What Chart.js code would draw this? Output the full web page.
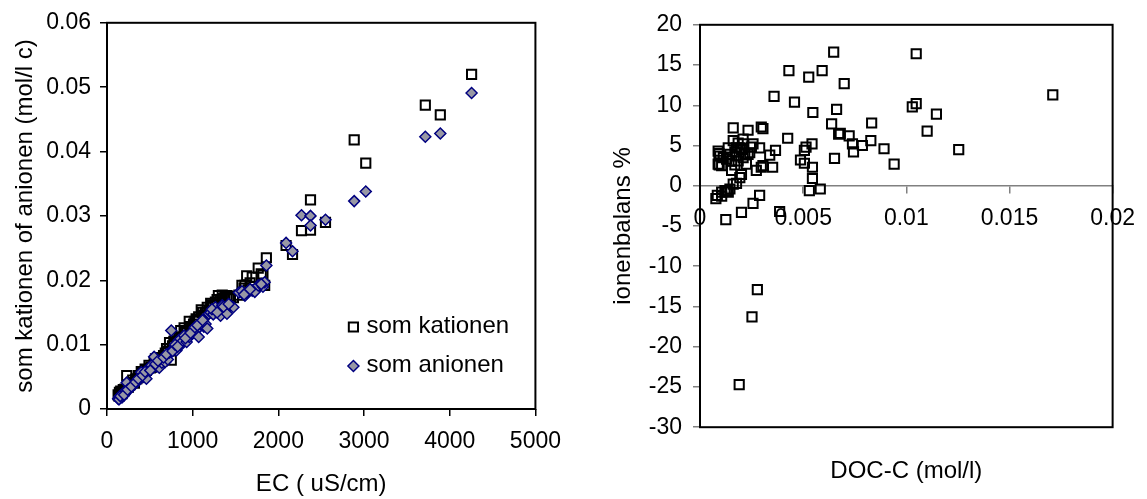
<!DOCTYPE html>
<html>
<head>
<meta charset="utf-8">
<title>som kationen / ionenbalans</title>
<script src="https://cdn.jsdelivr.net/npm/chart.js@4.4.1/dist/chart.umd.min.js"></script>
<style>
  html, body { margin: 0; padding: 0; background: #fff; overflow: hidden; }
  .box { position: absolute; top: 0; height: 499px; }
  #left { left: 0; width: 573px; }
  #right { left: 573px; width: 574px; }
</style>
</head>
<body>
<div class="box" id="left"><canvas id="ecChart"></canvas></div>
<div class="box" id="right"><canvas id="docChart"></canvas></div>
<script>
// left chart: EC against som kationen / som anionen
var ec = [130, 145, 160, 175, 190, 210, 230, 250, 270, 300,
  320, 350, 380, 400, 430, 460, 490, 520, 550, 580,
  610, 640, 680, 710, 730, 750, 780, 810, 840, 860,
  880, 900, 930, 960, 990, 1010, 1040, 1070, 1100, 1130,
  1150, 1170, 1190, 1210, 1240, 1265, 1300, 1325, 1345, 1375,
  1400, 1440, 1475, 1540, 1575, 1610, 1630, 1650, 1695, 1725,
  1765, 1820, 1840, 1860, 2090, 2165, 2270, 2375, 2375, 2550,
  2885, 3020, 3715, 3890, 4255,
  140, 155, 200, 240, 285, 335, 365, 415, 445, 505,
  565, 595, 660, 695, 765, 795, 825, 915, 975, 1025,
  1055, 1115, 1225, 1285, 1360, 1420, 1600, 1670, 1800];
var kationen = [0.0022, 0.0026, 0.0028, 0.0024, 0.0030, 0.0031, 0.0052, 0.0034, 0.0038, 0.0045,
  0.0040, 0.0047, 0.0050, 0.0058, 0.0054, 0.0060, 0.0068, 0.0065, 0.0072, 0.0070,
  0.0076, 0.0074, 0.0087, 0.0090, 0.0103, 0.0076, 0.0105, 0.0100, 0.0110, 0.0122,
  0.0108, 0.0126, 0.0118, 0.0136, 0.0124, 0.0132, 0.0140, 0.0143, 0.0154, 0.0146,
  0.0150, 0.0158, 0.0152, 0.0164, 0.0160, 0.0166, 0.0176, 0.0170, 0.0177, 0.0174,
  0.0176, 0.0175, 0.0173, 0.0177, 0.0192, 0.0192, 0.0207, 0.0185, 0.0205, 0.0190,
  0.0219, 0.0208, 0.0192, 0.0235, 0.0254, 0.0240, 0.0277, 0.0325, 0.0278, 0.0290,
  0.0418, 0.0382, 0.0472, 0.0457, 0.0520,
  0.0020, 0.0024, 0.0028, 0.0036, 0.0041, 0.0046, 0.0052, 0.0056, 0.0062, 0.0064,
  0.0078, 0.0080, 0.0083, 0.0094, 0.0098, 0.0112, 0.0106, 0.0120, 0.0128, 0.0136,
  0.0138, 0.0150, 0.0162, 0.0170, 0.0172, 0.0171, 0.0188, 0.0196, 0.0210];
var anionen = [0.0016, 0.0019, 0.0021, 0.0018, 0.0024, 0.0027, 0.0041, 0.0029, 0.0033, 0.0036,
  0.0038, 0.0044, 0.0046, 0.0057, 0.0050, 0.0047, 0.0062, 0.0068, 0.0081, 0.0066,
  0.0064, 0.0072, 0.0073, 0.0077, 0.0088, 0.0122, 0.0094, 0.0091, 0.0107, 0.0099,
  0.0105, 0.0114, 0.0104, 0.0112, 0.0117, 0.0120, 0.0122, 0.0112, 0.0131, 0.0128,
  0.0132, 0.0125, 0.0148, 0.0150, 0.0147, 0.0158, 0.0152, 0.0145, 0.0161, 0.0156,
  0.0148, 0.0161, 0.0158, 0.0181, 0.0183, 0.0176, 0.0181, 0.0183, 0.0184, 0.0182,
  0.0192, 0.0190, 0.0197, 0.0223, 0.0258, 0.0245, 0.0301, 0.0300, 0.0285, 0.0294,
  0.0323, 0.0338, 0.0423, 0.0428, 0.0491,
  0.0015, 0.0020, 0.0022, 0.0030, 0.0035, 0.0042, 0.0047, 0.0052, 0.0058, 0.0060,
  0.0070, 0.0075, 0.0080, 0.0085, 0.0090, 0.0100, 0.0097, 0.0110, 0.0118, 0.0127,
  0.0130, 0.0138, 0.0155, 0.0150, 0.0159, 0.0163, 0.0178, 0.0186, 0.0194];
var ecTicks = [0, 1000, 2000, 3000, 4000, 5000];
var sumTicks = [0, 0.01, 0.02, 0.03, 0.04, 0.05, 0.06];

// right chart: DOC-C against ionenbalans %
var docC = [0.00077, 0.00084, 0.00105, 0.00105, 0.00121, 0.00129, 0.00137, 0.00145, 0.00161, 0.00177,
  0.00193, 0.00201, 0.00125, 0.00201, 0.00257, 0.00289, 0.00386, 0.00088, 0.00092, 0.00096,
  0.00088, 0.00093, 0.00105, 0.00113, 0.00137, 0.00161, 0.00161, 0.00177, 0.00177, 0.00193,
  0.00209, 0.00233, 0.00257, 0.00233, 0.00209, 0.00225, 0.00273, 0.00289, 0.00305, 0.00153,
  0.00153, 0.00185, 0.00209, 0.00241, 0.00297, 0.00305, 0.00297, 0.00352, 0.00338, 0.00366,
  0.00425, 0.00145, 0.00169, 0.00201, 0.00217, 0.00185, 0.00169, 0.00129, 0.00249, 0.00431,
  0.00359, 0.00458, 0.00527, 0.00592, 0.00648, 0.00699, 0.00547, 0.00662, 0.00638, 0.00487,
  0.00506, 0.00514, 0.00543, 0.00506, 0.00545, 0.00545, 0.00530, 0.00583, 0.00652, 0.00672,
  0.00680, 0.00723, 0.00739, 0.00744, 0.00787, 0.00832, 0.00828, 0.00892, 0.00941, 0.01048,
  0.01029, 0.01048, 0.01146, 0.01101, 0.01254, 0.0171, 0.00278, 0.00252, 0.00190];
var ionenbalans = [-1.6, -1.2, -0.8, -1.3, -0.6, -0.6, -0.8, -0.4, 0.2, 0.3,
  1.0, 1.4, -4.2, -3.3, -2.2, -1.2, -3.2, 4.3, 4.0, 3.7,
  2.7, 2.6, 2.5, 3.5, 4.7, 7.2, 5.6, 4.7, 3.7, 4.7,
  5.2, 6.9, 5.2, 3.9, 3.5, 2.7, 1.9, 4.7, 2.5, 3.1,
  1.9, 3.1, 5.8, 4.1, 7.3, 7.1, 2.3, 2.3, 3.8, 4.4,
  5.9, 3.9, 4.2, 4.5, 3.9, 5.3, 2.6, 3.3, 4.8, 14.3,
  11.1, 10.4, 13.5, 14.3, 16.6, 12.7, 9.1, 9.5, 7.7, 3.2,
  4.4, 4.8, 5.2, 2.8, 2.3, 0.9, -0.6, -0.4, 3.4, 6.4,
  6.5, 6.2, 5.2, 4.2, 5.0, 7.8, 5.6, 4.6, 2.7, 16.4,
  9.8, 10.2, 8.9, 6.8, 4.5, 11.3, -12.9, -16.3, -24.7];
var docTicks = [0, 0.005, 0.01, 0.015, 0.02];
var balansTicks = [-30, -25, -20, -15, -10, -5, 0, 5, 10, 15, 20];

(function(w, d) {
  var fn = {};
  var FONT = '"Liberation Sans", Arial, sans-serif';

  Chart.defaults.font.family = FONT;
  Chart.defaults.font.size = 23;
  Chart.defaults.color = '#000';

  function pairs(xs, ys) {
    return xs.map(function(x, i) { return {x: x, y: ys[i]}; });
  }

  function fixedTicks(values) {
    return function(scale) {
      scale.ticks = values.map(function(v) { return {value: v}; });
    };
  }

  // plot area box
  var framePlugin = {
    id: 'frame',
    beforeDatasetsDraw: function(chart) {
      var a = chart.chartArea, ctx = chart.ctx;
      ctx.save();
      ctx.strokeStyle = '#000';
      ctx.lineWidth = 2;
      ctx.strokeRect(a.left, a.top, a.right - a.left, a.bottom - a.top);
      ctx.restore();
    }
  };

  // legend sits inside the plot, lower right
  var innerLegend = {
    id: 'innerLegend',
    afterDatasetsDraw: function(chart) {
      var a = chart.chartArea, ctx = chart.ctx;
      ctx.save();
      ctx.font = '24px ' + FONT;
      ctx.textBaseline = 'middle';
      chart.data.datasets.forEach(function(ds, i) {
        var x = a.right - 182, y = a.bottom - 82 + i * 39;
        ctx.lineWidth = ds.borderWidth;
        ctx.strokeStyle = ds.borderColor;
        ctx.fillStyle = ds.backgroundColor;
        ctx.beginPath();
        if (ds.pointStyle === 'rectRot') {
          var r = ds.pointRadius;
          ctx.moveTo(x, y - r); ctx.lineTo(x + r, y); ctx.lineTo(x, y + r); ctx.lineTo(x - r, y);
          ctx.closePath();
        } else {
          var s = ds.pointRadius * Math.SQRT1_2;
          ctx.rect(x - s, y - s, 2 * s, 2 * s);
        }
        ctx.fill();
        ctx.stroke();
        ctx.fillStyle = '#000';
        ctx.fillText(ds.label, x + 13, y - 1);
      });
      ctx.restore();
    }
  };

  fn.initEC = function() {
    var ctx = d.getElementById('ecChart').getContext('2d');
    new Chart(ctx, {
      type: 'scatter',
      data: {
        datasets: [{
          label: 'som kationen',
          data: pairs(ec, kationen),
          pointStyle: 'rect',
          pointRadius: 6.5,
          borderWidth: 2,
          borderColor: '#000',
          backgroundColor: 'rgba(0,0,0,0)',
          order: 1
        }, {
          label: 'som anionen',
          data: pairs(ec, anionen),
          pointStyle: 'rectRot',
          pointRadius: 5.5,
          borderWidth: 1.5,
          borderColor: '#000080',
          backgroundColor: '#9898a4',
          order: 0
        }]
      },
      options: {
        responsive: true,
        maintainAspectRatio: false,
        animation: false,
        events: [],
        layout: {padding: {top: 22, right: 31, bottom: 0, left: 0}},
        plugins: {legend: {display: false}, tooltip: {enabled: false}},
        scales: {
          x: {
            type: 'linear', min: 0, max: 5000,
            afterBuildTicks: fixedTicks(ecTicks),
            afterFit: function(s) { s.height = 90; },
            border: {display: false},
            grid: {drawOnChartArea: false, tickLength: 7, tickColor: '#000', lineWidth: 1.5},
            ticks: {padding: 12, maxRotation: 0, callback: function(v) { return String(v); }},
            title: {display: true, text: 'EC ( uS/cm)', font: {size: 24}, padding: {top: 0, bottom: 0}}
          },
          y: {
            type: 'linear', min: 0, max: 0.06,
            afterBuildTicks: fixedTicks(sumTicks),
            afterFit: function(s) { s.width = 107; },
            border: {display: false},
            grid: {drawOnChartArea: false, tickLength: 7, tickColor: '#000', lineWidth: 1.5},
            ticks: {padding: 9, callback: function(v) { return String(v); }},
            title: {display: true, text: 'som kationen of anionen (mol/l c)', font: {size: 24}, padding: {top: 11, bottom: 0}}
          }
        }
      },
      plugins: [framePlugin, innerLegend]
    });
  };

  fn.initDOC = function() {
    var ctx = d.getElementById('docChart').getContext('2d');
    new Chart(ctx, {
      type: 'scatter',
      data: {
        datasets: [{
          label: 'ionenbalans %',
          data: pairs(docC, ionenbalans),
          pointStyle: 'rect',
          pointRadius: 6.5,
          borderWidth: 2,
          borderColor: '#000',
          backgroundColor: 'rgba(0,0,0,0)'
        }]
      },
      options: {
        responsive: true,
        maintainAspectRatio: false,
        animation: false,
        events: [],
        layout: {padding: {top: 23, right: 31, bottom: 0, left: 0}},
        plugins: {
          legend: {display: false},
          tooltip: {enabled: false},
          title: {
            display: true, position: 'bottom', fullSize: false,
            text: 'DOC-C (mol/l)', color: '#000',
            font: {size: 24, weight: 'normal'},
            padding: {top: 30, bottom: 13}
          }
        },
        scales: {
          x: {
            type: 'linear', min: 0, max: 0.02,
            position: {y: 0},
            afterBuildTicks: fixedTicks(docTicks),
            border: {display: true, color: '#808080', width: 1.5},
            grid: {drawOnChartArea: false, tickLength: 7, tickColor: '#808080', lineWidth: 1.5},
            ticks: {padding: 12, maxRotation: 0, callback: function(v) { return String(v); }}
          },
          y: {
            type: 'linear', min: -30, max: 20,
            afterBuildTicks: fixedTicks(balansTicks),
            afterFit: function(s) { s.width = 127; },
            border: {display: false},
            grid: {drawOnChartArea: false, tickLength: 7, tickColor: '#808080', lineWidth: 1.5},
            ticks: {padding: 11, callback: function(v) { return String(v); }},
            title: {display: true, text: 'ionenbalans %', font: {size: 24}, padding: {top: 36, bottom: 0}}
          }
        }
      },
      plugins: [framePlugin]
    });
  };

  fn.initEC();
  fn.initDOC();
  w.IonCharts = fn;
})(window, document);
</script>
</body>
</html>
